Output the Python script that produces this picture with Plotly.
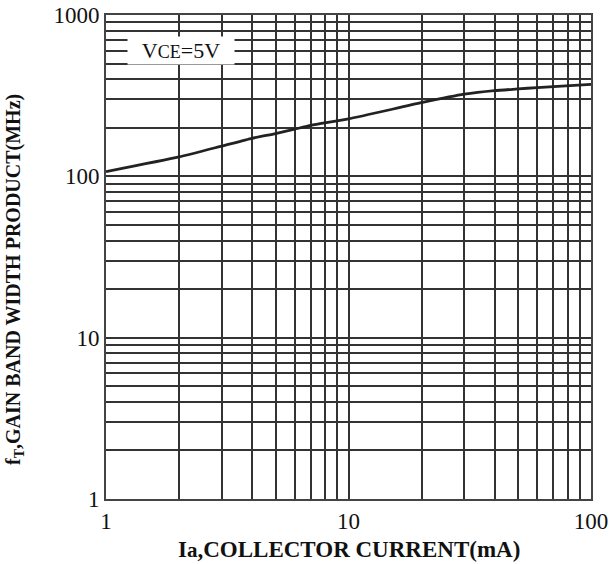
import plotly.graph_objects as go

# Data
current_ma = [1, 2, 3, 4, 5, 6, 7, 10, 20, 30, 40, 50, 60, 70, 100]
ft_mhz = [107, 132, 154, 172, 184, 196, 207, 227, 286, 323, 340, 348, 355, 360, 372]

x_tick_labels = ["1", "10", "100"]
y_tick_labels = ["1", "10", "100", "1000"]

def log_ticks(decades, labels):
    vals, texts = [], []
    for i, d in enumerate(decades[:-1]):
        for m in range(1, 10):
            vals.append(d * m)
            texts.append(labels[i] if m == 1 else "")
    vals.append(decades[-1])
    texts.append(labels[-1])
    return vals, texts

xv, xt = log_ticks([1, 10, 100], x_tick_labels)
yv, yt = log_ticks([1, 10, 100, 1000], y_tick_labels)

FONT = "Liberation Serif, Times New Roman, serif"
GRID = "#333333"

fig = go.Figure()
fig.add_trace(go.Scatter(
    x=current_ma, y=ft_mhz, mode="lines",
    line=dict(color="#222222", width=2.8, shape="spline", smoothing=0.5),
    showlegend=False, hoverinfo="skip"))

fig.update_layout(
    width=615, height=564,
    margin=dict(l=106, r=24, t=15, b=65),
    paper_bgcolor="white", plot_bgcolor="white",
    font=dict(family=FONT, color="#111111"),
    xaxis=dict(type="log", range=[0, 2], tickvals=xv, ticktext=xt,
               showgrid=True, gridcolor=GRID, gridwidth=1.5,
               showline=True, linecolor="#444444", linewidth=1.8, mirror=True,
               ticks="", tickfont=dict(size=23, family=FONT, color="#111"),
               zeroline=False, automargin=False),
    yaxis=dict(type="log", range=[0, 3], tickvals=yv, ticktext=yt,
               showgrid=True, gridcolor=GRID, gridwidth=1.5,
               showline=True, linecolor="#444444", linewidth=1.8, mirror=True,
               ticks="", tickfont=dict(size=23, family=FONT, color="#111"),
               zeroline=False, automargin=False),
    annotations=[
        dict(text="<b>I<span style='font-size:21px'>a</span>,COLLECTOR CURRENT(mA)</b>",
             xref="paper", yref="paper", x=0.5, y=(499 - 549) / 484,
             xanchor="center", yanchor="middle", showarrow=False,
             font=dict(size=23, family=FONT, color="#111")),
        dict(text="<b>f<sub>T</sub>,GAIN BAND WIDTH PRODUCT(MHz)</b>",
             xref="paper", yref="paper", x=(14 - 106) / 485, y=(499 - 280) / 484,
             xanchor="center", yanchor="middle", textangle=-90, showarrow=False,
             font=dict(size=20, family=FONT, color="#111")),
        dict(text="V<span style='font-size:18px'>CE</span>=5V",
             xref="x", yref="y", x=0.31, y=2.78,
             xanchor="center", yanchor="middle", showarrow=False,
             bgcolor="white", borderpad=1, width=104,
             font=dict(size=22, family=FONT, color="#111")),
    ],
)

fig.write_html("out.html", config={"displayModeBar": False},
               post_script="document.body.style.margin='0';")
